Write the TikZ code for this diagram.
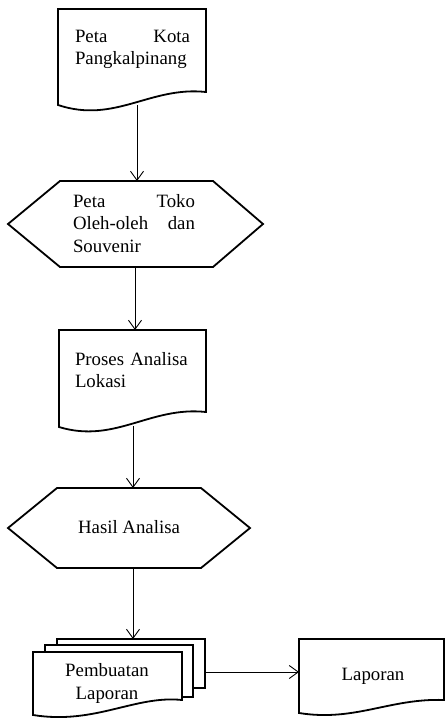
\documentclass[tikz,border=0pt]{standalone}
\usepackage{fontspec}
\setmainfont{Liberation Serif}
\usetikzlibrary{arrows.meta}
\tikzset{
  shapeline/.style={line width=1.8pt, line join=miter, fill=white},
  arr/.style={line width=0.9pt, -{Straight Barb[length=9pt,width=13pt,line width=0.9pt]}},
  txt/.style={font=\fontsize{18.8}{22.5}\selectfont, inner sep=0pt, outer sep=0pt},
}
\begin{document}
\begin{tikzpicture}[x=1pt,y=-1pt]
\useasboundingbox (0,0) rectangle (445,720);

% Document 1
\draw[shapeline] (58,9) -- (206,9) -- (206,92) .. controls (150,86) and (115,124) .. (58,105) -- cycle;
\node[txt, anchor=base west, text width=115pt, align=justify] (t1) at (75,42)
  {\makebox[\linewidth][s]{Peta\hfill Kota}\\Pangkalpinang};

% Hexagon 1
\draw[shapeline] (60,181) -- (213,181) -- (263,224) -- (213,267) -- (60,267) -- (8,224) -- cycle;
\node[txt, anchor=base west, text width=122pt, align=left] (t2) at (73,207)
  {\makebox[\linewidth][s]{Peta\hfill Toko}\\\makebox[\linewidth][s]{Oleh-oleh\hfill dan}\\Souvenir};

% Document 2
\draw[shapeline] (59,330) -- (206,330) -- (206,412) .. controls (150,406) and (115,444) .. (59,427) -- cycle;
\node[txt, anchor=base west, text width=130pt, align=left] (t3) at (75,365)
  {Proses Analisa\\Lokasi};

% Hexagon 2
\draw[shapeline] (57,488) -- (201,488) -- (250,528) -- (201,568) -- (57,568) -- (8,528) -- cycle;
\node[txt, anchor=base] (t4) at (129,533) {Hasil Analisa};

% Multi-document
\draw[shapeline] (57,639) -- (205,639) -- (205,688) -- (57,688) -- cycle;
\draw[shapeline] (45,645) -- (193,645) -- (193,697) -- (45,697) -- cycle;
\draw[shapeline] (33,652) -- (182,652) -- (182,700) .. controls (135,695) and (95,725) .. (33,715) -- cycle;
\node[txt, anchor=base, align=center] (t5) at (107,699) {Pembuatan\\Laporan};

% Laporan document
\draw[shapeline] (299,639) -- (444,639) -- (444,700) .. controls (390,698) and (355,722) .. (299,713) -- cycle;
\node[txt, anchor=base] (t6) at (373,680) {Laporan};

% connector endpoints
\coordinate (d1b) at (137,105);
\coordinate (h1t) at (137,181);
\coordinate (h1b) at (135,267);
\coordinate (d2t) at (135,330);
\coordinate (d2b) at (133,426);
\coordinate (h2t) at (133,488);
\coordinate (h2b) at (133,568);
\coordinate (mdt) at (133,639);
\coordinate (mdr) at (205,672);
\coordinate (lpl) at (299,672);

\draw[arr] (d1b) -- (h1t);
\draw[arr] (h1b) -- (d2t);
\draw[arr] (d2b) -- (h2t);
\draw[arr] (h2b) -- (mdt);
\draw[arr] (mdr) -- (lpl);
\end{tikzpicture}
\end{document}
